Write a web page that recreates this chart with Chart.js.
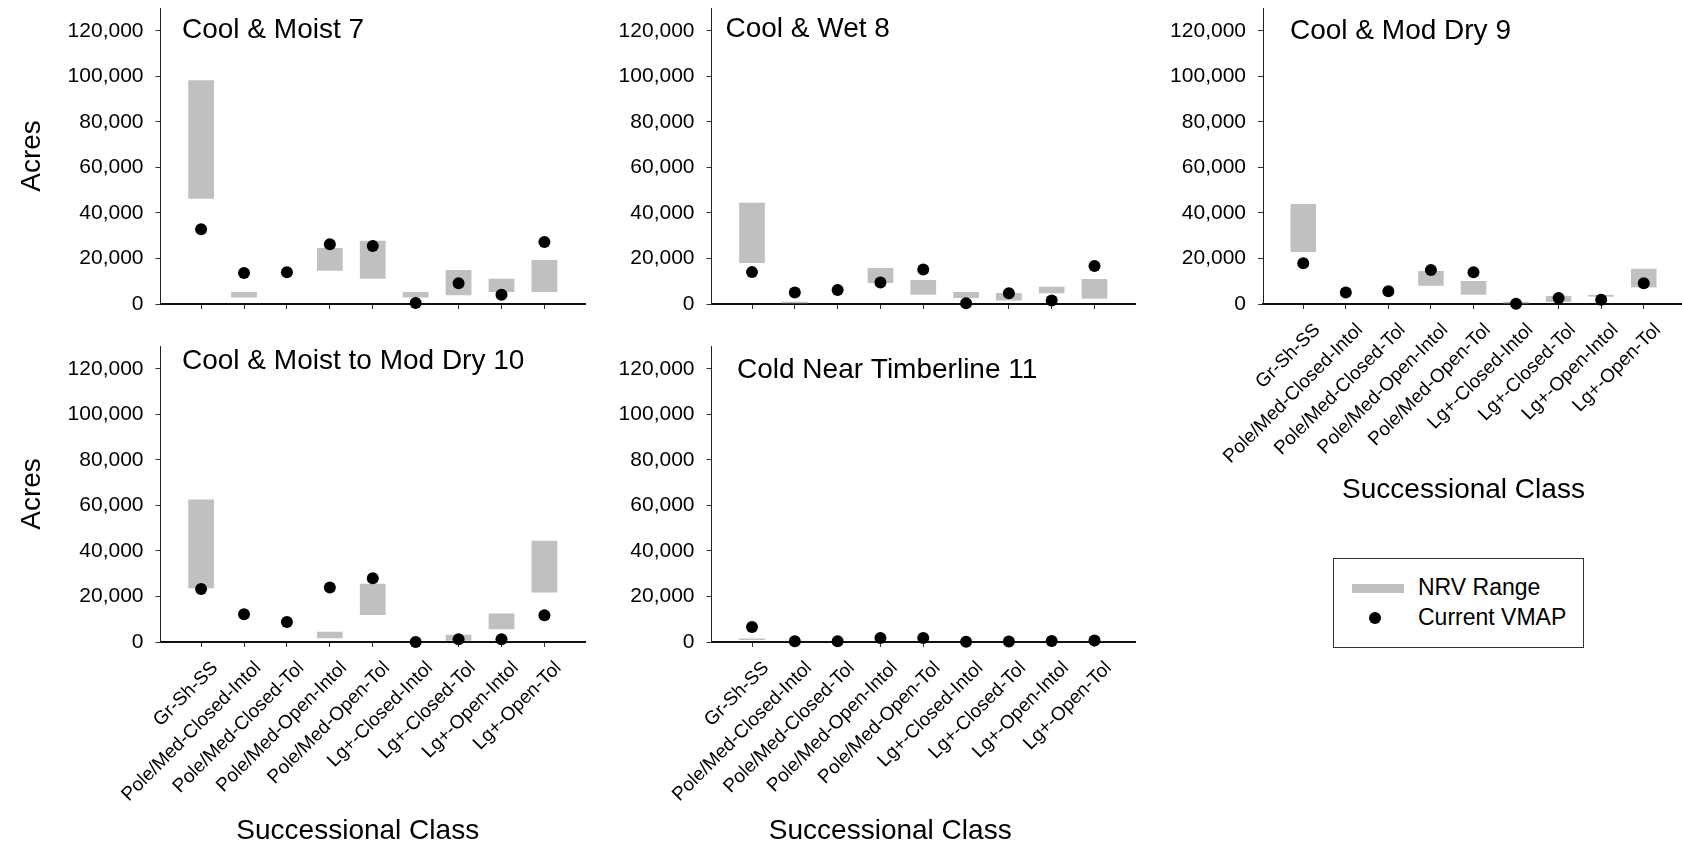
<!DOCTYPE html>
<html>
<head>
<meta charset="utf-8">
<title>Successional class acres by biophysical setting</title>
<script src="https://cdn.jsdelivr.net/npm/chart.js@4.4.1/dist/chart.umd.min.js"></script>
<style>
  html, body { margin: 0; padding: 0; background: #fff; overflow: hidden; }
  body { position: relative; width: 1682px; height: 850px; font-family: "Liberation Sans", Arial, sans-serif; }
  canvas { position: absolute; }
  #legend {
    position: absolute; left: 1333px; top: 558px; width: 251px; height: 90px;
    box-sizing: border-box; border: 1px solid #333; background: #fff;
    font-size: 23px; line-height: 23px; color: #000;
  }
  #legend .swatch { position: absolute; left: 18px; top: 25px; width: 52px; height: 9px; background: #c0c0c0; }
  #legend .dot { position: absolute; left: 35px; top: 53px; width: 12px; height: 12px; border-radius: 50%; background: #000; }
  #legend .label { position: absolute; left: 84px; white-space: nowrap; }
</style>
</head>
<body>
<canvas id="bps7" width="600" height="324" style="left:0;top:0"></canvas>
<canvas id="bps8" width="585" height="324" style="left:560px;top:0"></canvas>
<canvas id="bps9" width="560" height="510" style="left:1130px;top:0"></canvas>
<canvas id="bps10" width="600" height="512" style="left:0;top:338px"></canvas>
<canvas id="bps11" width="585" height="512" style="left:560px;top:338px"></canvas>

<div id="legend">
  <span class="swatch"></span><span class="label" style="top:17px">NRV Range</span>
  <span class="dot"></span><span class="label" style="top:47px">Current VMAP</span>
</div>

<script>
// ── Categories and tick labels ──────────────────────────────────────────
var classes = [
  'Gr-Sh-SS', 'Pole/Med-Closed-Intol', 'Pole/Med-Closed-Tol',
  'Pole/Med-Open-Intol', 'Pole/Med-Open-Tol', 'Lg+-Closed-Intol',
  'Lg+-Closed-Tol', 'Lg+-Open-Intol', 'Lg+-Open-Tol'
];
var yTicks = [0, 20000, 40000, 60000, 80000, 100000, 120000];

// ── Acres: NRV range (low/high) and current VMAP, one set per setting ──
var moist7Low  = [46200, 2800, null, 14600, 11100, 2800, 3800, 5300, 5300];
var moist7High = [98300, 5300, null, 24600, 27800, 5300, 14900, 11100, 19300];
var moist7Vmap = [32800, 13600, 13900, 26200, 25500, 400, 9100, 4100, 27200];

var wet8Low  = [18000, 300, null, 9200, 4100, 2600, 1500, 4700, 2300];
var wet8High = [44500, 1000, null, 15800, 10500, 5300, 4800, 7600, 11000];
var wet8Vmap = [14000, 5100, 6100, 9400, 15200, 300, 4700, 1500, 16700];

var modDry9Low  = [22800, null, null, 8000, 4100, 300, 900, 3200, 7300];
var modDry9High = [43900, null, null, 14500, 10100, 1000, 3500, 4000, 15500];
var modDry9Vmap = [17900, 5100, 5600, 14900, 13900, 100, 2600, 1900, 9100];

var moistDry10Low  = [23600, null, null, 1600, 11900, null, 600, 5600, 21700];
var moistDry10High = [62600, null, null, 4500, 25600, null, 3200, 12500, 44500];
var moistDry10Vmap = [23300, 12200, 8800, 23900, 28000, 0, 1200, 1200, 11700];

var timber11Low  = [900, null, null, null, null, null, null, null, null];
var timber11High = [1500, null, null, null, null, null, null, null, null];
var timber11Vmap = [6600, 300, 300, 1800, 1800, 100, 200, 400, 700];

var FONT = '"Liberation Sans", Arial, sans-serif';
Chart.defaults.font.family = FONT;
Chart.defaults.color = '#000';

// Panel name inside the plot, and the x-axis caption under the labels
var panelText = {
  id: 'panelText',
  afterDraw: function (chart, args, o) {
    var ctx = chart.ctx, a = chart.chartArea;
    ctx.save();
    ctx.fillStyle = '#000';
    ctx.font = '28px ' + FONT;
    ctx.textAlign = 'left';
    ctx.textBaseline = 'alphabetic';
    ctx.fillText(o.title, a.left + o.titleDx, a.top + o.titleDy);
    if (o.xTitle) {
      ctx.textAlign = 'center';
      ctx.textBaseline = 'middle';
      ctx.fillText(o.xTitle, (a.left + a.right) / 2 + o.xTitleDx, a.bottom + o.xTitleDy);
    }
    ctx.restore();
  }
};

function makePanel(id, p) {
  var ranges = [];
  var points = [];
  p.low.forEach(function (lo, i) {
    if (lo !== null) ranges.push({ x: i + 1, y: [lo, p.high[i]] });
    points.push({ x: i + 1, y: p.vmap[i] });
  });

  return new Chart(document.getElementById(id), {
    type: 'bar',
    data: {
      datasets: [
        {
          label: 'Current VMAP',
          type: 'scatter',
          data: points,
          order: 0,
          pointRadius: 6,
          pointHoverRadius: 6,
          backgroundColor: '#000',
          borderWidth: 0,
          clip: false
        },
        {
          label: 'NRV Range',
          data: ranges,
          order: 1,
          backgroundColor: '#c0c0c0',
          borderWidth: 0,
          categoryPercentage: 1,
          barPercentage: 0.6
        }
      ]
    },
    options: {
      responsive: false,
      animation: false,
      events: [],
      layout: { padding: { top: 8, right: p.padRight, left: 0, bottom: 0 } },
      plugins: {
        legend: { display: false },
        tooltip: { enabled: false },
        panelText: {
          title: p.title, titleDx: p.titleDx, titleDy: p.titleDy,
          xTitle: p.showLabels ? 'Successional Class' : '',
          xTitleDx: p.xTitleDx || 0, xTitleDy: p.xTitleDy || 0
        }
      },
      scales: {
        x: {
          type: 'linear',
          min: 0.054,
          max: 9.946,
          offset: false,
          grid: {
            display: true, offset: false, drawOnChartArea: false, drawTicks: true,
            tickLength: 5, tickColor: '#333', color: '#333', lineWidth: 1
          },
          border: { display: true, color: '#111', width: 2 },
          ticks: {
            display: p.showLabels,
            autoSkip: false,
            minRotation: 45,
            maxRotation: 45,
            padding: 10,
            labelOffset: 14,
            color: '#000',
            font: { size: 19 },
            callback: function (v, i) { return classes[i]; }
          },
          afterBuildTicks: function (scale) {
            scale.ticks = classes.map(function (c, i) { return { value: i + 1 }; });
          },
          afterFit: function (scale) {
            scale.height = p.xHeight;
            scale.paddingLeft = 0;
            scale.paddingRight = 0;
          }
        },
        y: {
          min: 0,
          max: 130000,
          grid: {
            display: true, drawOnChartArea: false, drawTicks: true,
            tickLength: 5, tickColor: '#333', color: '#333', lineWidth: 1
          },
          border: { display: true, color: '#222', width: 1 },
          ticks: {
            padding: 12,
            color: '#000',
            font: { size: 21 },
            callback: function (v) { return v.toLocaleString('en-US'); }
          },
          afterBuildTicks: function (scale) {
            scale.ticks = yTicks.map(function (v) { return { value: v }; });
          },
          title: {
            display: p.acres,
            text: 'Acres',
            color: '#000',
            font: { size: 28 },
            padding: { top: 15, bottom: 0 }
          },
          afterFit: function (scale) {
            scale.width = p.yWidth;
            scale.paddingTop = 0;
            scale.paddingBottom = 0;
          }
        }
      }
    },
    plugins: [panelText]
  });
}

makePanel('bps7', {
  title: 'Cool & Moist 7', titleDx: 21.5, titleDy: 29.7,
  low: moist7Low, high: moist7High, vmap: moist7Vmap,
  yWidth: 160.5, padRight: 15, xHeight: 20, showLabels: false, acres: true
});
makePanel('bps8', {
  title: 'Cool & Wet 8', titleDx: 14, titleDy: 29.3,
  low: wet8Low, high: wet8High, vmap: wet8Vmap,
  yWidth: 151.5, padRight: 10, xHeight: 20, showLabels: false, acres: false
});
makePanel('bps9', {
  title: 'Cool & Mod Dry 9', titleDx: 27, titleDy: 31,
  low: modDry9Low, high: modDry9High, vmap: modDry9Vmap,
  yWidth: 133, padRight: 3, xHeight: 206, showLabels: true, acres: false,
  xTitleDx: -10, xTitleDy: 186
});
makePanel('bps10', {
  title: 'Cool & Moist to Mod Dry 10', titleDx: 21.5, titleDy: 23.3,
  low: moistDry10Low, high: moistDry10High, vmap: moistDry10Vmap,
  yWidth: 160.5, padRight: 15, xHeight: 208, showLabels: true, acres: true,
  xTitleDx: -15, xTitleDy: 189
});
makePanel('bps11', {
  title: 'Cold Near Timberline 11', titleDx: 25.5, titleDy: 32.3,
  low: timber11Low, high: timber11High, vmap: timber11Vmap,
  yWidth: 151.5, padRight: 10, xHeight: 208, showLabels: true, acres: false,
  xTitleDx: -33, xTitleDy: 189
});
</script>
</body>
</html>
